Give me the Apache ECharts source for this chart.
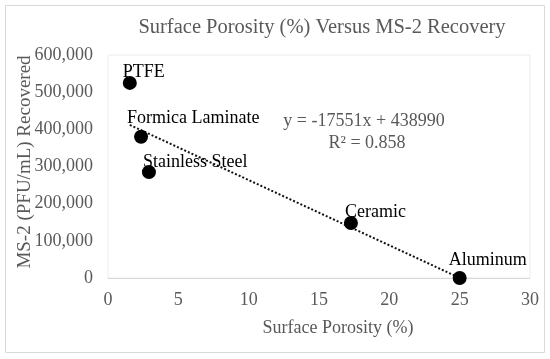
<!DOCTYPE html>
<html>
<head>
<meta charset="utf-8">
<script src="https://cdn.jsdelivr.net/npm/echarts@6/dist/echarts.min.js"></script>
<style>
html,body{margin:0;padding:0;background:#fff;}
#c{width:550px;height:359px;}
</style>
</head>
<body>
<div id="c"></div>
<script>
// ---- data ----
var materials = ['PTFE', 'Formica Laminate', 'Stainless Steel', 'Ceramic', 'Aluminum'];
var porosity = [1.55, 2.35, 2.91, 17.27, 25];
var recovered = [525000, 380000, 285000, 148000, 0];
var trendX = [1.55, 25];
var trendY = [411785, 225];
var xTicks = [0, 5, 10, 15, 20, 25, 30];
var yTicks = [0, 100000, 200000, 300000, 400000, 500000, 600000];
var titleText = 'Surface Porosity (%) Versus MS-2 Recovery';
var xTitle = 'Surface Porosity (%)';
var yTitle = 'MS-2 (PFU/mL) Recovered';
var equationLines = ['y = -17551x + 438990', 'R² = 0.858'];
// label offsets (layout only)
var labelDx = [-7, -14, -6, -6, -11];
var labelDy = [-4, -12, -3, -4, -11];

var FONT = 'Liberation Serif';
var GRAY = '#595959';

var chart = echarts.init(document.getElementById('c'), null, {renderer: 'canvas'});

var pts = porosity.map(function (x, i) {
  return {
    value: [x, recovered[i]],
    name: materials[i],
    label: { offset: [labelDx[i], labelDy[i]] }
  };
});

function txt(x, y, s, size, extra) {
  var o = { type: 'text', x: x, y: y,
    style: { text: s, fontFamily: FONT, fontSize: size, fill: GRAY, textAlign: 'center', textVerticalAlign: 'middle' } };
  if (extra) for (var k in extra) o[k] = extra[k];
  return o;
}

chart.setOption({
  animation: false,
  backgroundColor: '#fff',
  textStyle: { fontFamily: FONT },
  grid: {
    left: 108, right: 20, top: 55, bottom: 81,
    show: true, borderColor: '#ececec', borderWidth: 1, backgroundColor: 'transparent'
  },
  xAxis: {
    type: 'value',
    min: xTicks[0], max: xTicks[xTicks.length - 1], interval: xTicks[1] - xTicks[0],
    axisLine: { show: true, lineStyle: { color: '#d9d9d9', width: 1 } },
    axisTick: { show: false },
    splitLine: { show: false },
    axisLabel: { color: GRAY, fontFamily: FONT, fontSize: 18, margin: 13 }
  },
  yAxis: {
    type: 'value',
    min: yTicks[0], max: yTicks[yTicks.length - 1], interval: yTicks[1] - yTicks[0],
    axisLine: { show: false },
    axisTick: { show: false },
    splitLine: { show: false },
    axisLabel: {
      color: GRAY, fontFamily: FONT, fontSize: 18, margin: 15,
      formatter: function (v) { return v.toLocaleString('en-US'); }
    }
  },
  series: [
    {
      type: 'line',
      data: trendX.map(function (x, i) { return [x, trendY[i]]; }),
      showSymbol: false,
      symbol: 'none',
      lineStyle: { color: '#111', width: 2, type: [2, 2] },
      z: 2
    },
    {
      type: 'scatter',
      data: pts,
      symbol: 'circle',
      symbolSize: 14,
      itemStyle: { color: '#000', opacity: 1 },
      label: {
        show: true,
        position: 'top',
        align: 'left',
        verticalAlign: 'middle',
        distance: 0,
        formatter: '{b}',
        color: '#000',
        fontFamily: FONT,
        fontSize: 18
      },
      z: 3
    }
  ],
  graphic: [
    { type: 'rect', shape: { x: 5.5, y: 5.5, width: 539, height: 347 },
      style: { fill: 'none', stroke: '#d9d9d9', lineWidth: 1 }, silent: true, z: -1 },
    txt(322, 28, titleText, 20.5),
    txt(338, 328, xTitle, 18),
    txt(25, 162, yTitle, 19, { rotation: Math.PI / 2 }),
    txt(364, 121, equationLines[0], 18),
    txt(367, 143, equationLines[1], 18)
  ]
});
</script>
</body>
</html>
